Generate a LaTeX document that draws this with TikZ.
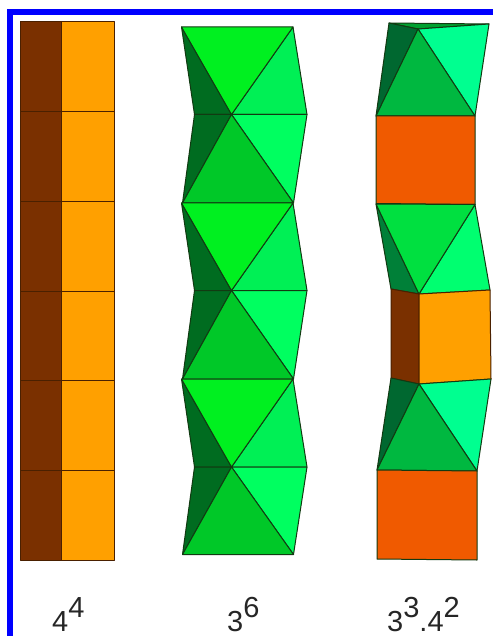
\documentclass[tikz,border=0pt]{standalone}
\usepackage{fontspec}
\setmainfont{Liberation Sans}
\definecolor{brownf}{HTML}{7A3000}
\definecolor{orangef}{HTML}{FFA000}
\definecolor{redf}{HTML}{F05A00}
\definecolor{gtop}{HTML}{00F020}
\definecolor{gright}{HTML}{00F055}
\definecolor{gdark}{HTML}{006C20}
\definecolor{gmid}{HTML}{00C828}
\definecolor{grightb}{HTML}{00FF60}
\definecolor{cmid}{HTML}{00B840}
\definecolor{cdark}{HTML}{006830}
\definecolor{cright}{HTML}{00FF90}
\definecolor{csliver}{HTML}{00A030}
\definecolor{ctop}{HTML}{00E040}
\definecolor{cright2}{HTML}{00FF70}
\definecolor{cdark2}{HTML}{008038}
\definecolor{edgec}{HTML}{123A12}
\definecolor{edgeb}{HTML}{4A2000}
\tikzset{
  face/.style={draw=edgec,line width=1pt,line join=round},
  sq/.style={draw=edgeb,line width=1pt,line join=round},
  lab/.style={font=\fontsize{29}{29}\selectfont,anchor=base west,inner sep=0pt,text=black!85},
}
\newcommand{\supnum}[1]{\raisebox{13.5pt}{#1}}
\begin{document}
\begin{tikzpicture}[x=1pt,y=-1pt]
\useasboundingbox (0,0) rectangle (493,636);
\fill[white] (0,0) rectangle (493,636);
\fill[blue] (7,9) rectangle (493,15);
\fill[blue] (7,9) rectangle (13,636);
% column 1
\foreach \a/\b in {22/112,112/201.5,201.5/291,291/380,380/470,470/560}{
  \filldraw[sq,fill=brownf] (20.5,\a) rectangle (61,\b);
  \filldraw[sq,fill=orangef] (61,\a) rectangle (114,\b);
}
% column 2: three up and three down bands
\foreach \t/\m/\b in {27/114.5/203,203/290.5/379,379/467/554.5}{
  \filldraw[face,fill=gdark] (181.5,\t) -- (194.5,\m) -- (231.5,\m) -- cycle;
  \filldraw[face,fill=gright] (293,\t) -- (307,\m) -- (231.5,\m) -- cycle;
  \filldraw[face,fill=gtop] (181.5,\t) -- (293,\t) -- (231.5,\m) -- cycle;
  \filldraw[face,fill=gdark] (194.5,\m) -- (182.5,\b) -- (231.5,\m) -- cycle;
  \filldraw[face,fill=grightb] (307,\m) -- (293.5,\b) -- (231.5,\m) -- cycle;
  \filldraw[face,fill=gmid] (182.5,\b) -- (293.5,\b) -- (231.5,\m) -- cycle;
}
% column 3 top
\filldraw[face,fill=csliver] (389,23) -- (489,24) -- (418,29) -- cycle;
\filldraw[face,fill=cdark] (389,23) -- (418,29) -- (376,116) -- cycle;
\filldraw[face,fill=cright] (418,29) -- (489,24) -- (475,116) -- cycle;
\filldraw[face,fill=cmid] (418,29) -- (376,116) -- (475,116) -- cycle;
\filldraw[face,fill=redf] (376,116) -- (475,116) -- (475,204.5) -- (376,203.5) -- cycle;
% column 3 middle
\filldraw[face,fill=cdark2] (376,204) -- (419,294) -- (391,289) -- cycle;
\filldraw[face,fill=cright2] (475,204.5) -- (490,290) -- (419,294) -- cycle;
\filldraw[face,fill=ctop] (376,204) -- (475,204.5) -- (419,294) -- cycle;
\filldraw[sq,fill=brownf] (391,289) -- (419,294) -- (419,384) -- (391,378) -- cycle;
\filldraw[sq,fill=orangef] (419,294) -- (490,290) -- (491,379) -- (419,384) -- cycle;
% column 3 lower
\filldraw[face,fill=cdark] (391,378) -- (419,384) -- (377,470) -- cycle;
\filldraw[face,fill=cright] (419,384) -- (491,379) -- (477,471) -- cycle;
\filldraw[face,fill=cmid] (419,384) -- (377,470) -- (477,471) -- cycle;
\filldraw[face,fill=redf] (377,470) -- (477,471) -- (477,560) -- (377,559) -- cycle;
% labels
\node[lab] (l1) at (52,631) {4\supnum{4}};
\node[lab] (l2) at (227,631) {3\supnum{6}};
\node[lab] (l3) at (387,631) {3\supnum{3}.4\supnum{2}};
\end{tikzpicture}
\end{document}
